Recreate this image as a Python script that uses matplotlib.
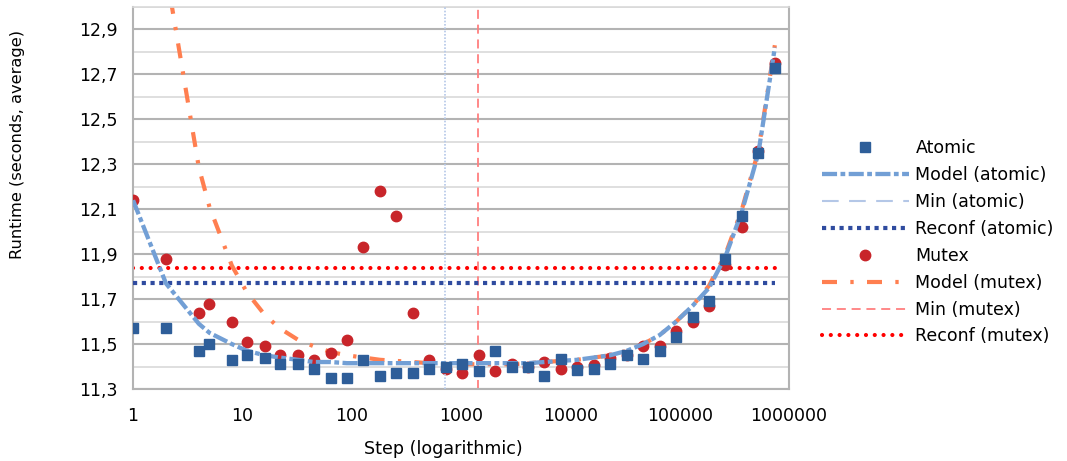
import matplotlib
matplotlib.use("Agg")
import matplotlib.pyplot as plt
from matplotlib.lines import Line2D

# Step sizes (x) shared by all series
steps = [1, 2, 4, 5, 8, 11, 16, 22, 32, 45, 64, 90, 128, 181, 256, 362, 512, 724,
         1024, 1448, 2048, 2896, 4096, 5792, 8192, 11585, 16384, 23170, 32768,
         46341, 65536, 92682, 131072, 185364, 262144, 370728, 524288, 741455]

# Measured runtimes
atomic = [11.57, 11.57, 11.47, 11.50, 11.43, 11.45, 11.44, 11.41, 11.41, 11.39,
          11.35, 11.35, 11.43, 11.36, 11.37, 11.37, 11.39, 11.40, 11.41, 11.38,
          11.47, 11.40, 11.40, 11.36, 11.435, 11.385, 11.39, 11.41, 11.45, 11.435,
          11.47, 11.53, 11.62, 11.69, 11.88, 12.07, 12.35, 12.73]
mutex = [12.14, 11.88, 11.64, 11.68, 11.60, 11.51, 11.49, 11.45, 11.45, 11.43,
         11.46, 11.52, 11.93, 12.18, 12.07, 11.64, 11.43, 11.39, 11.37, 11.45,
         11.38, 11.41, 11.40, 11.42, 11.39, 11.40, 11.405, 11.44, 11.45, 11.49,
         11.49, 11.56, 11.60, 11.67, 11.85, 12.02, 12.36, 12.75]

# Model curves
model_atomic = [12.14, 11.77, 11.59, 11.55, 11.50, 11.47, 11.45, 11.44, 11.43, 11.42,
                11.42, 11.415, 11.415, 11.415, 11.415, 11.415, 11.415, 11.415, 11.415,
                11.415, 11.415, 11.415, 11.415, 11.42, 11.425, 11.43, 11.44, 11.45,
                11.47, 11.50, 11.54, 11.60, 11.67, 11.75, 11.89, 12.09, 12.35, 12.82]
model_mutex = [14.91, 13.16, 12.285, 12.11, 11.85, 11.73, 11.63, 11.57, 11.52, 11.49,
               11.465, 11.45, 11.44, 11.43, 11.425, 11.42, 11.415, 11.415, 11.41,
               11.41, 11.41, 11.41, 11.415, 11.42, 11.425, 11.43, 11.44, 11.45,
               11.47, 11.50, 11.54, 11.60, 11.67, 11.76, 11.90, 12.10, 12.36, 12.83]

# Minimum-step markers and reconfiguration levels
min_step_atomic = 716
min_step_mutex = 1420
reconf_atomic = 11.77
reconf_mutex = 11.84

y_ticks = [11.3, 11.5, 11.7, 11.9, 12.1, 12.3, 12.5, 12.7, 12.9]
y_minor = [11.4, 11.6, 11.8, 12.0, 12.2, 12.4, 12.6, 12.8, 13.0]
y_labels = ["11,3", "11,5", "11,7", "11,9", "12,1", "12,3", "12,5", "12,7", "12,9"]
x_ticks = [1, 10, 100, 1000, 10000, 100000, 1000000]
x_labels = ["1", "10", "100", "1000", "10000", "100000", "1000000"]

c_atomic = "#2e5e99"
c_model_atomic = "#729fd5"
c_min_atomic = "#b4c7e7"
c_reconf_atomic = "#2f4b9f"
c_mutex = "#c8252a"
c_model_mutex = "#ff7f50"
c_min_mutex = "#ff7f7f"
c_reconf_mutex = "#ff0000"

fig = plt.figure(figsize=(10.67, 4.61), dpi=100)
ax = fig.add_axes([0.1247, 0.1562, 0.6148, 0.8286])
ax.set_xscale("log")

# Lines
l_rm, = ax.plot([steps[0], steps[-1]], [reconf_mutex, reconf_mutex], color=c_reconf_mutex,
                lw=3, linestyle=(0, (0.01, 2.1)), dash_capstyle="round", zorder=2)
l_mm = ax.axvline(min_step_mutex, color=c_min_mutex, lw=1.3, linestyle=(0, (5, 3.2)), zorder=2)
l_mod_m, = ax.plot(steps, model_mutex, color=c_model_mutex, lw=3,
                   linestyle=(0, (3.6, 3.2, 0.8, 3.2)), zorder=2.2)
l_mut, = ax.plot(steps, mutex, "o", color=c_mutex, markersize=7.5, lw=0, zorder=3)
l_ra, = ax.plot([steps[0], steps[-1]], [reconf_atomic, reconf_atomic], color=c_reconf_atomic,
                lw=3, linestyle=(0, (1, 1.1)), zorder=3.5)
ax.axvline(min_step_atomic, color=c_min_atomic, lw=1.2, linestyle=(0, (1, 1)), zorder=3.5)
l_mod_a, = ax.plot(steps, model_atomic, color=c_model_atomic, lw=3.1,
                   linestyle=(0, (3.5, 0.8, 1.1, 0.8)), zorder=4)
l_at, = ax.plot(steps, atomic, "s", color=c_atomic, markersize=7, lw=0, zorder=4.5)

# Axes styling
ax.set_xlim(1, 1000000)
ax.set_ylim(11.3, 13.0)
ax.set_yticks(y_ticks)
ax.set_yticklabels(y_labels)
ax.set_yticks(y_minor, minor=True)
ax.set_xticks(x_ticks)
ax.set_xticklabels(x_labels)
ax.xaxis.set_minor_locator(matplotlib.ticker.NullLocator())
ax.tick_params(axis="both", which="both", length=0, labelsize=12.5)
ax.tick_params(axis="y", pad=11)
ax.tick_params(axis="x", pad=13)
ax.grid(axis="y", which="major", color="#b3b3b3", lw=1.5, zorder=0)
ax.grid(axis="y", which="minor", color="#d9d9d9", lw=1.2, zorder=0)
ax.set_axisbelow(True)
for side in ["left", "bottom", "right"]:
    ax.spines[side].set_color("#b3b3b3")
    ax.spines[side].set_linewidth(1.5)
ax.spines["top"].set_color("#d9d9d9")
ax.spines["top"].set_linewidth(1.2)

ax.set_xlabel("Step (logarithmic)", fontsize=12.6)
ax.set_ylabel("Runtime (seconds, average)", fontsize=11.7)
ax.xaxis.set_label_coords(0.4726, -0.1335)
ax.yaxis.set_label_coords(-0.164, 0.639)

# Legend
min_atomic_handle = Line2D([], [], color=c_min_atomic, lw=1.5, linestyle=(0, (8, 5)))
handles = [l_at, l_mod_a, min_atomic_handle, l_ra, l_mut, l_mod_m, l_mm, l_rm]
labels = ["Atomic", "Model (atomic)", "Min (atomic)", "Reconf (atomic)",
          "Mutex", "Model (mutex)", "Min (mutex)", "Reconf (mutex)"]
fig.legend(handles, labels, loc="center left", bbox_to_anchor=(0.762, 0.474),
           frameon=False, fontsize=12.5, handlelength=5.0, handletextpad=0.4,
           labelspacing=0.51, numpoints=1, borderpad=0)

fig.savefig("out.png", dpi=100)
